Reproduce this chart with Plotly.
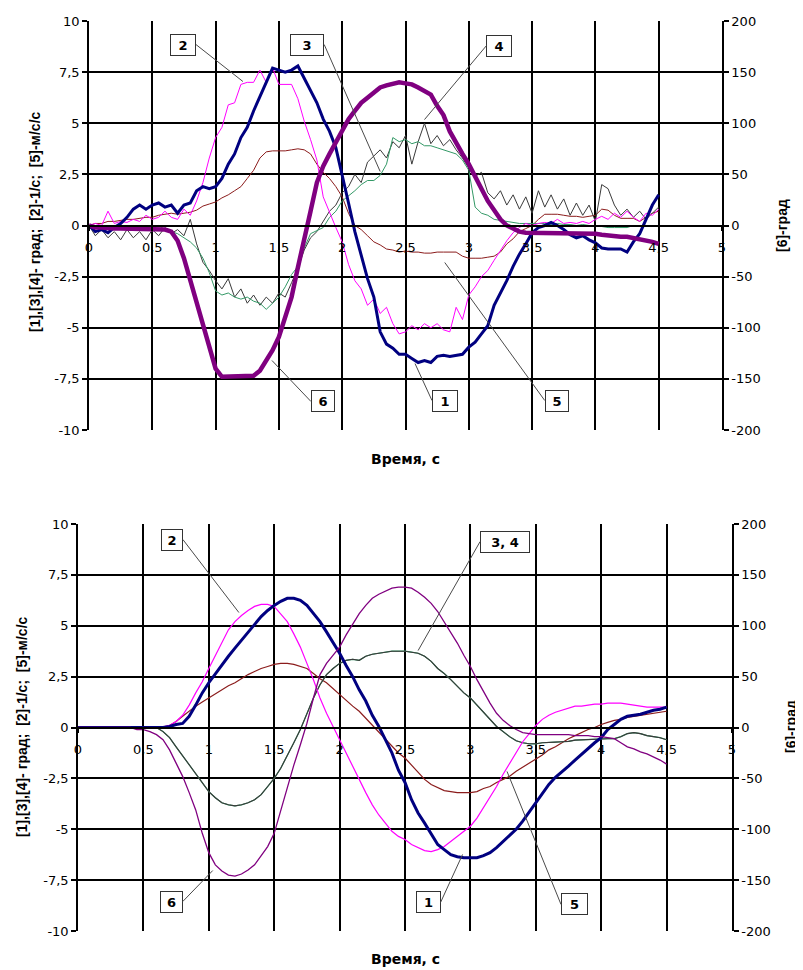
import plotly.graph_objects as go

# ---------------- data ----------------
T = [0.00, 0.05, 0.10, 0.15, 0.20, 0.25, 0.30, 0.35, 0.40, 0.45,
     0.50, 0.55, 0.60, 0.65, 0.70, 0.75, 0.80, 0.85, 0.90, 0.95,
     1.00, 1.05, 1.10, 1.15, 1.20, 1.25, 1.30, 1.35, 1.40, 1.45,
     1.50, 1.55, 1.60, 1.65, 1.70, 1.75, 1.80, 1.85, 1.90, 1.95,
     2.00, 2.05, 2.10, 2.15, 2.20, 2.25, 2.30, 2.35, 2.40, 2.45,
     2.50, 2.55, 2.60, 2.65, 2.70, 2.75, 2.80, 2.85, 2.90, 2.95,
     3.00, 3.05, 3.10, 3.15, 3.20, 3.25, 3.30, 3.35, 3.40, 3.45,
     3.50, 3.55, 3.60, 3.65, 3.70, 3.75, 3.80, 3.85, 3.90, 3.95,
     4.00, 4.05, 4.10, 4.15, 4.20, 4.25, 4.30, 4.35, 4.40, 4.45,
     4.50]

# upper chart (measured)
TOP_S1 = [0.0, -0.3, -0.2, -0.35, -0.1, 0.1, 0.4, 0.8, 1.0, 0.8,
          1.0, 1.1, 0.9, 1.0, 0.6, 1.0, 1.1, 1.7, 1.9, 1.8,
          1.9, 2.3, 3.0, 3.5, 4.3, 4.8, 5.6, 6.3, 7.0, 7.7,
          7.6, 7.5, 7.6, 7.8, 7.2, 6.6, 6.0, 5.2, 4.6, 3.8,
          2.5, 1.1, -0.3, -1.4, -2.6, -3.5, -5.2, -5.8, -6.0, -6.3,
          -6.3, -6.5, -6.7, -6.6, -6.7, -6.4, -6.35, -6.4, -6.35, -6.3,
          -5.95, -5.7, -5.3, -4.9, -3.9, -3.3, -2.7, -2.0, -1.4, -0.9,
          -0.35, -0.1, 0.0, 0.15, 0.0, -0.2, -0.45, -0.6, -0.5, -0.7,
          -0.85, -1.1, -1.15, -1.15, -1.15, -1.3, -0.8, -0.4, 0.3, 1.0,
          1.5]
TOP_S2 = [0.0, 0.1, 0.0, 0.7, 0.1, 0.2, 0.15, 0.3, 0.2, 0.5,
          0.3, 0.4, 0.7, 0.4, 0.3, 0.8, 0.5, 1.2, 2.1, 3.3,
          4.3, 4.8, 5.9, 6.0, 6.9, 7.0, 7.0, 7.6, 7.0, 7.7,
          6.9, 6.9, 6.9, 6.2, 5.1, 4.2, 3.2, 1.4, 0.6, -0.1,
          -0.8, -1.9, -2.7, -3.1, -3.9, -3.6, -4.3, -4.0, -4.8, -5.3,
          -5.2, -4.9, -5.1, -4.8, -5.0, -4.8, -5.1, -5.2, -4.0, -4.6,
          -3.4, -3.0, -2.5, -2.2, -1.7, -1.2, -0.75, -0.35, -0.1, 0.1,
          0.0, 0.1, 0.15, 0.1, 0.3, 0.1, 0.15, 0.1, 0.2, 0.1,
          0.3, 0.45, 0.3, 0.6, 0.4, 0.7, 0.4, 0.2, 0.6, 0.5,
          0.8]
TOP_S3 = [0.0, -0.1, 0.0, -0.1, 0.0, -0.1, -0.1, 0.0, -0.1, 0.0,
          -0.1, 0.0, -0.2, -0.3, -0.4, -0.6, -0.8, -1.1, -1.6, -2.3,
          -3.2, -3.4, -3.3, -3.5, -3.6, -3.5, -3.7, -3.8, -4.1, -3.8,
          -3.5, -3.0, -2.4, -2.0, -1.1, -0.4, -0.25, -0.1, 0.4, 0.7,
          1.2, 1.45, 1.7, 2.0, 2.2, 2.2, 2.45, 3.0, 4.3, 4.1,
          4.2, 4.0, 4.1, 3.9, 3.9, 3.8, 3.7, 3.6, 3.5, 3.2,
          2.7, 0.9, 0.6, 0.5, 0.3, 0.25, 0.2, 0.15, 0.1, 0.1,
          0.1, 0.1, 0.1, 0.05, 0.1, 0.05, 0.05, 0.0, 0.05, 0.0,
          0.0, -0.05, -0.1, -0.1, -0.1, -0.1, 0.0, 0.0, 0.0, 0.0,
          0.0]
TOP_S4 = [0.0, -0.5, -0.2, -0.6, -0.3, -0.7, -0.2, -0.6, -0.3, -0.7,
          -0.2, -0.5, -0.1, -0.4, -0.2, -0.5, 0.3, -0.9, -1.8, -2.2,
          -2.7, -3.1, -2.6, -3.5, -3.1, -3.8, -3.4, -3.9, -3.5, -3.8,
          -3.3, -3.5, -2.8, -2.1, -1.2, -0.6, -0.3, 0.2, 0.7, 1.0,
          1.6, 1.9, 2.5, 2.1, 3.1, 3.4, 3.7, 3.3, 4.1, 3.8,
          4.4, 3.0, 4.1, 5.0, 4.0, 4.4, 3.9, 4.2, 3.7, 3.3,
          2.8, 2.4, 2.6, 1.6, 1.3, 1.7, 1.0, 1.5, 0.8, 1.4,
          0.6, 1.7, 0.9, 1.5, 0.8, 1.3, 0.5, 1.1, 0.5, 1.0,
          0.2, 2.0, 1.8, 1.0, 0.5, 0.8, 0.4, 0.7, 0.3, 0.6,
          0.9]
TOP_S5 = [0.0, 0.1, 0.1, 0.2, 0.2, 0.25, 0.3, 0.3, 0.35, 0.4,
          0.4, 0.5, 0.55, 0.6, 0.55, 0.6, 0.65, 0.75, 0.95, 1.05,
          1.15, 1.35, 1.5, 1.7, 1.9, 2.3, 2.7, 3.3, 3.6, 3.65,
          3.65, 3.65, 3.7, 3.75, 3.7, 3.5, 3.0, 2.6, 2.3, 1.9,
          1.4, 0.6, 0.0, -0.2, -0.5, -0.8, -0.95, -1.15, -1.2, -1.3,
          -1.25, -1.3, -1.3, -1.35, -1.35, -1.3, -1.3, -1.3, -1.3, -1.5,
          -1.6, -1.6, -1.6, -1.55, -1.5, -1.3, -0.9, -0.65, -0.3, -0.15,
          0.0, 0.3, 0.55, 0.55, 0.55, 0.5, 0.45, 0.45, 0.4, 0.45,
          0.5, 0.8, 0.75, 0.5, 0.35, 0.35, 0.35, 0.2, 0.4, 0.6,
          0.7]
TOP_S6 = [0, -2, -2, -3, -3, -3, -3, -3, -3, -3,
          -3, -3, -4, -6, -15, -32, -54, -75, -100, -119,
          -140, -148, -148, -148, -148, -148, -147, -142, -132, -122,
          -109, -91, -70, -41, -15, 14, 42, 58, 70, 81,
          92, 104, 112, 120, 125, 130, 135, 137, 139, 140,
          139, 138, 135, 132, 128, 117, 108, 92, 80, 70,
          60, 47, 36, 24, 15, 6, 0, -3, -6, -7,
          -7, -7, -7, -7, -7, -7, -8, -8, -8, -8,
          -8, -9, -10, -10, -11, -11, -12, -13, -15, -16,
          -18]

# lower chart (computed curves)
BOT_S1 = [0, 0, 0, 0, 0, 0, 0, 0, 0, 0,
          0, 0, 0, 0.0, 0.05, 0.15, 0.2, 0.55, 1.1, 1.7,
          2.2, 2.65, 3.05, 3.5, 3.9, 4.3, 4.7, 5.1, 5.45, 5.75,
          6.0, 6.2, 6.35, 6.35, 6.25, 6.0, 5.6, 5.2, 4.7, 4.2,
          3.65, 3.05, 2.5, 1.85, 1.3, 0.6, 0.05, -0.6, -1.25, -2.1,
          -2.7, -3.55, -4.2, -4.7, -5.25, -5.75, -6.0, -6.25, -6.35, -6.4,
          -6.4, -6.4, -6.3, -6.15, -5.9, -5.6, -5.35, -5.0, -4.6, -4.15,
          -3.7, -3.2, -2.8, -2.45, -2.15, -1.9, -1.6, -1.3, -1.0, -0.75,
          -0.5, -0.1, 0.15, 0.4, 0.55, 0.6, 0.65, 0.75, 0.85, 0.9,
          1.0]
BOT_S2 = [0, 0, 0, 0, 0, 0, 0, 0, 0, 0,
          0, 0, 0, 0.03, 0.1, 0.3, 0.6, 1.1, 1.7, 2.25,
          2.9, 3.55, 4.2, 4.8, 5.2, 5.5, 5.75, 5.95, 6.05, 6.05,
          5.95, 5.6, 5.2, 4.6, 3.95, 3.15, 2.35, 1.45, 0.7, 0.05,
          -0.6, -1.25, -1.9, -2.6, -3.2, -3.8, -4.3, -4.7, -5.1, -5.35,
          -5.5, -5.75, -5.9, -6.05, -6.1, -6.0, -5.85, -5.6, -5.35, -5.1,
          -4.85, -4.45, -3.95, -3.45, -2.9, -2.3, -1.75, -1.25, -0.7, -0.3,
          0.1, 0.4, 0.6, 0.75, 0.85, 0.95, 1.05, 1.05, 1.1, 1.15,
          1.15, 1.2, 1.2, 1.2, 1.15, 1.1, 1.05, 1.0, 1.0, 1.0,
          1.0]
BOT_S3 = [0, 0, 0, 0, 0, 0, 0, 0, 0, 0,
          0, 0, 0, -0.2, -0.5, -0.95, -1.4, -1.85, -2.3, -2.75,
          -3.15, -3.45, -3.7, -3.8, -3.85, -3.8, -3.7, -3.55, -3.3, -2.9,
          -2.5, -2.0, -1.4, -0.75, -0.1, 0.7, 1.45, 2.1, 2.6, 2.9,
          3.15, 3.3, 3.35, 3.3, 3.5, 3.6, 3.65, 3.7, 3.75, 3.75,
          3.75, 3.7, 3.65, 3.5, 3.25, 2.9, 2.65, 2.35, 2.0, 1.7,
          1.45, 1.1, 0.7, 0.35, 0.05, -0.2, -0.45, -0.65, -0.75, -0.8,
          -0.8, -0.75, -0.75, -0.72, -0.7, -0.68, -0.62, -0.6, -0.58, -0.57,
          -0.55, -0.55, -0.55, -0.45, -0.3, -0.25, -0.3, -0.4, -0.45, -0.5,
          -0.6]
BOT_S4 = [0, 0, 0, 0, 0, 0, 0, 0, 0, 0,
          0, 0, 0, -0.2, -0.5, -0.95, -1.4, -1.85, -2.3, -2.75,
          -3.15, -3.45, -3.7, -3.8, -3.85, -3.8, -3.7, -3.55, -3.3, -2.9,
          -2.5, -2.0, -1.4, -0.75, -0.1, 0.7, 1.45, 2.1, 2.6, 2.9,
          3.15, 3.3, 3.35, 3.3, 3.5, 3.6, 3.65, 3.7, 3.75, 3.75,
          3.75, 3.7, 3.65, 3.5, 3.25, 2.9, 2.65, 2.35, 2.0, 1.7,
          1.45, 1.1, 0.7, 0.35, 0.05, -0.2, -0.45, -0.65, -0.75, -0.8,
          -0.8, -0.75, -0.75, -0.72, -0.7, -0.68, -0.62, -0.6, -0.58, -0.57,
          -0.55, -0.55, -0.55, -0.45, -0.3, -0.25, -0.3, -0.4, -0.45, -0.5,
          -0.6]
BOT_S5 = [0, 0, 0, 0, 0, 0, 0, 0, 0, 0,
          0, 0, 0, 0.02, 0.1, 0.3, 0.55, 0.8, 1.05, 1.25,
          1.45, 1.65, 1.85, 2.05, 2.2, 2.4, 2.6, 2.75, 2.9, 3.0,
          3.1, 3.15, 3.15, 3.1, 3.0, 2.9, 2.65, 2.4, 2.2, 1.9,
          1.65, 1.35, 1.05, 0.8, 0.45, 0.1, -0.2, -0.55, -0.95, -1.25,
          -1.5, -1.85, -2.25, -2.55, -2.8, -2.95, -3.1, -3.15, -3.2, -3.2,
          -3.2, -3.15, -3.0, -2.9, -2.7, -2.55, -2.4, -2.15, -1.95, -1.75,
          -1.55, -1.35, -1.1, -0.95, -0.75, -0.55, -0.4, -0.25, -0.1, 0.0,
          0.15, 0.25, 0.35, 0.4, 0.5, 0.55, 0.6, 0.65, 0.7, 0.75,
          0.8]
BOT_S6 = [0, 0, 0, 0, 0, 0, 0, 0, 0, -2,
          -2, -4, -7, -12, -22, -35, -48, -64, -81, -104,
          -123, -135, -141, -145, -146, -144, -140, -135, -126, -117,
          -104, -81, -58, -37, -17, 4, 29, 52, 63, 71,
          79, 91, 102, 112, 120, 127, 131, 134, 137, 138,
          138, 137, 133, 128, 122, 114, 104, 94, 83, 71,
          60, 47, 35, 24, 14, 7, 2, -2, -5, -6,
          -7, -7, -7, -7, -7, -7, -8, -8, -8, -9,
          -9, -10, -11, -15, -19, -21, -24, -26, -29, -32,
          -36]

X_TICKS = [0, 0.5, 1, 1.5, 2, 2.5, 3, 3.5, 4, 4.5, 5]
X_TICK_TEXT = ["0", "0,5", "1", "1,5", "2", "2,5", "3", "3,5", "4", "4,5", "5"]
L_TICKS = [-10, -7.5, -5, -2.5, 0, 2.5, 5, 7.5, 10]
L_TICK_TEXT = ["-10", "-7,5", "-5", "-2,5", "0", "2,5", "5", "7,5", "10"]
R_TICKS = [-200, -150, -100, -50, 0, 50, 100, 150, 200]
R_TICK_TEXT = ["-200", "-150", "-100", "-50", "0", "50", "100", "150", "200"]

LEFT_TITLE = "[1],[3],[4]- град;  [2]-1/с;  [5]-м/с/с"
RIGHT_TITLE = "[6]-град"
X_TITLE = "Время, с"

# ---------------- styling ----------------
# the page body adds an 8 px margin, so the figure is 8 px smaller than the
# window and every screen position below is shifted by that offset
OFF = 8
W, H = 803 - OFF, 970 - OFF
NAVY, MAGENTA, GREEN, DARK, DRED, PURPLE = "#000080", "#FF00FF", "#339966", "#3a3a3a", "#8B1C1C", "#800080"
TICKFONT = dict(family="DejaVu Sans", size=13, color="black")
TITLEFONT_V = dict(family="Liberation Sans", size=14, color="black")
TITLEFONT_H = dict(family="DejaVu Sans", size=14, color="black")


def fx(p):
    return (p - OFF) / W


def fy(p):
    return 1 - (p - OFF) / H


TOP_PX = (89, 722, 21, 430)
BOT_PX = (78, 732, 524, 931)

fig = go.Figure()

# upper chart traces
for ys, col, wd in [(TOP_S5, DRED, 1), (TOP_S4, DARK, 1), (TOP_S3, GREEN, 1),
                    (TOP_S2, MAGENTA, 1), (TOP_S1, NAVY, 3)]:
    fig.add_trace(go.Scatter(x=T, y=ys, mode="lines", line=dict(color=col, width=wd),
                             xaxis="x", yaxis="y", showlegend=False, hoverinfo="skip"))
fig.add_trace(go.Scatter(x=T, y=TOP_S6, mode="lines", line=dict(color=PURPLE, width=4.5),
                         xaxis="x", yaxis="y2", showlegend=False, hoverinfo="skip"))

# lower chart traces
for ys, col, wd in [(BOT_S5, DRED, 1.2), (BOT_S3, GREEN, 1.2), (BOT_S4, DARK, 1.1),
                    (BOT_S2, MAGENTA, 1.2)]:
    fig.add_trace(go.Scatter(x=T, y=ys, mode="lines", line=dict(color=col, width=wd),
                             xaxis="x2", yaxis="y3", showlegend=False, hoverinfo="skip"))
fig.add_trace(go.Scatter(x=T, y=BOT_S6, mode="lines", line=dict(color=PURPLE, width=1.3),
                         xaxis="x2", yaxis="y4", showlegend=False, hoverinfo="skip"))
fig.add_trace(go.Scatter(x=T, y=BOT_S1, mode="lines", line=dict(color=NAVY, width=3),
                         xaxis="x2", yaxis="y3", showlegend=False, hoverinfo="skip"))


def xaxis_cfg(px):
    x0, x1, y0, y1 = px
    return dict(domain=[fx(x0), fx(x1)], range=[0, 5], anchor="free",
                position=fy((y0 + y1) / 2), tickmode="array", tickvals=X_TICKS,
                ticktext=X_TICK_TEXT, showgrid=True, gridcolor="black", gridwidth=1.5,
                ticks="outside", ticklen=5, tickcolor="black", tickwidth=1.5,
                showline=True, linecolor="black", linewidth=1.5, zeroline=False,
                tickfont=TICKFONT, ticklabelstandoff=5, fixedrange=True, automargin=False)


def ylaxis_cfg(px, xname):
    x0, x1, y0, y1 = px
    return dict(domain=[fy(y1), fy(y0)], range=[-10, 10], anchor=xname, side="left",
                tickmode="array", tickvals=L_TICKS, ticktext=L_TICK_TEXT,
                showgrid=True, gridcolor="black", gridwidth=1.5,
                ticks="outside", ticklen=5, tickcolor="black", tickwidth=1.5,
                showline=True, mirror=True, linecolor="black", linewidth=1.5, zeroline=False,
                tickfont=TICKFONT, fixedrange=True, automargin=False)


def yraxis_cfg(over, xname):
    return dict(overlaying=over, side="right", anchor=xname, range=[-200, 200],
                tickmode="array", tickvals=R_TICKS, ticktext=R_TICK_TEXT,
                showgrid=False, ticks="outside", ticklen=5, tickcolor="black", tickwidth=1.5,
                showline=True, linecolor="black", linewidth=1.5, zeroline=False,
                tickfont=TICKFONT, fixedrange=True, automargin=False)


fig.update_layout(
    width=W, height=H, autosize=False,
    margin=dict(l=0, r=0, t=0, b=0, pad=0),
    paper_bgcolor="white", plot_bgcolor="white",
    xaxis=xaxis_cfg(TOP_PX),
    yaxis=ylaxis_cfg(TOP_PX, "x"),
    yaxis2=yraxis_cfg("y", "x"),
    xaxis2=xaxis_cfg(BOT_PX),
    yaxis3=ylaxis_cfg(BOT_PX, "x2"),
    yaxis4=yraxis_cfg("y3", "x2"),
)

# callout boxes
BOXFONT = dict(family="DejaVu Sans", size=13, color="black")
callouts = [
    # text, xref, yref, x, y, ax, ay, xanchor, width
    ("2", "x", "y", 1.216, 7.04, -47, -37, "right", 20),
    ("3", "x", "y", 2.30, 2.64, -56, -127, "right", 28),
    ("4", "x", "y", 2.65, 5.18, 62, -74, "left", 20),
    ("6", "x", "y", 1.445, -6.6, 39, 41, "left", 18),
    ("1", "x", "y", 2.575, -6.75, 17, 37, "left", 20),
    ("5", "x", "y", 2.81, -1.81, 100, 138, "left", 18),
    ("2", "x2", "y3", 1.23, 5.65, -56, -73, "right", 16),
    ("3, 4", "x2", "y3", 2.60, 3.78, 62, -109, "left", 44),
    ("6", "x2", "y3", 1.03, -7.03, -30, 31, "right", 17),
    ("1", "x2", "y3", 2.94, -6.24, -22, 48, "right", 19),
    ("5", "x2", "y3", 3.28, -2.16, 54, 133, "left", 21),
]
for txt, xr, yr, x, y, ax, ay, xa, wd in callouts:
    fig.add_annotation(text="<b>%s</b>" % txt, xref=xr, yref=yr, x=x, y=y, ax=ax, ay=ay,
                       showarrow=True, arrowhead=0, arrowwidth=1, arrowcolor="#4a4a4a",
                       standoff=0, startstandoff=0, xanchor=xa, yanchor="middle",
                       width=wd, height=16, align="center",
                       bgcolor="white", bordercolor="#333333", borderwidth=1, borderpad=2,
                       font=BOXFONT)

# axis titles
for (xl, yc), (xr_, yrc), (xc, yx) in [((35, 222), (782, 226), (405, 459)),
                                         ((22, 727), (791, 727), (405, 959))]:
    fig.add_annotation(text="<b>%s</b>" % LEFT_TITLE, xref="paper", yref="paper",
                       x=fx(xl), y=fy(yc), showarrow=False, textangle=-90,
                       xanchor="center", yanchor="middle", font=TITLEFONT_V)
    fig.add_annotation(text="<b>%s</b>" % RIGHT_TITLE, xref="paper", yref="paper",
                       x=fx(xr_), y=fy(yrc), showarrow=False, textangle=-90,
                       xanchor="center", yanchor="middle", font=TITLEFONT_V)
    fig.add_annotation(text="<b>%s</b>" % X_TITLE, xref="paper", yref="paper",
                       x=fx(xc), y=fy(yx), showarrow=False,
                       xanchor="center", yanchor="middle", font=TITLEFONT_H)

fig.write_html("out.html")
